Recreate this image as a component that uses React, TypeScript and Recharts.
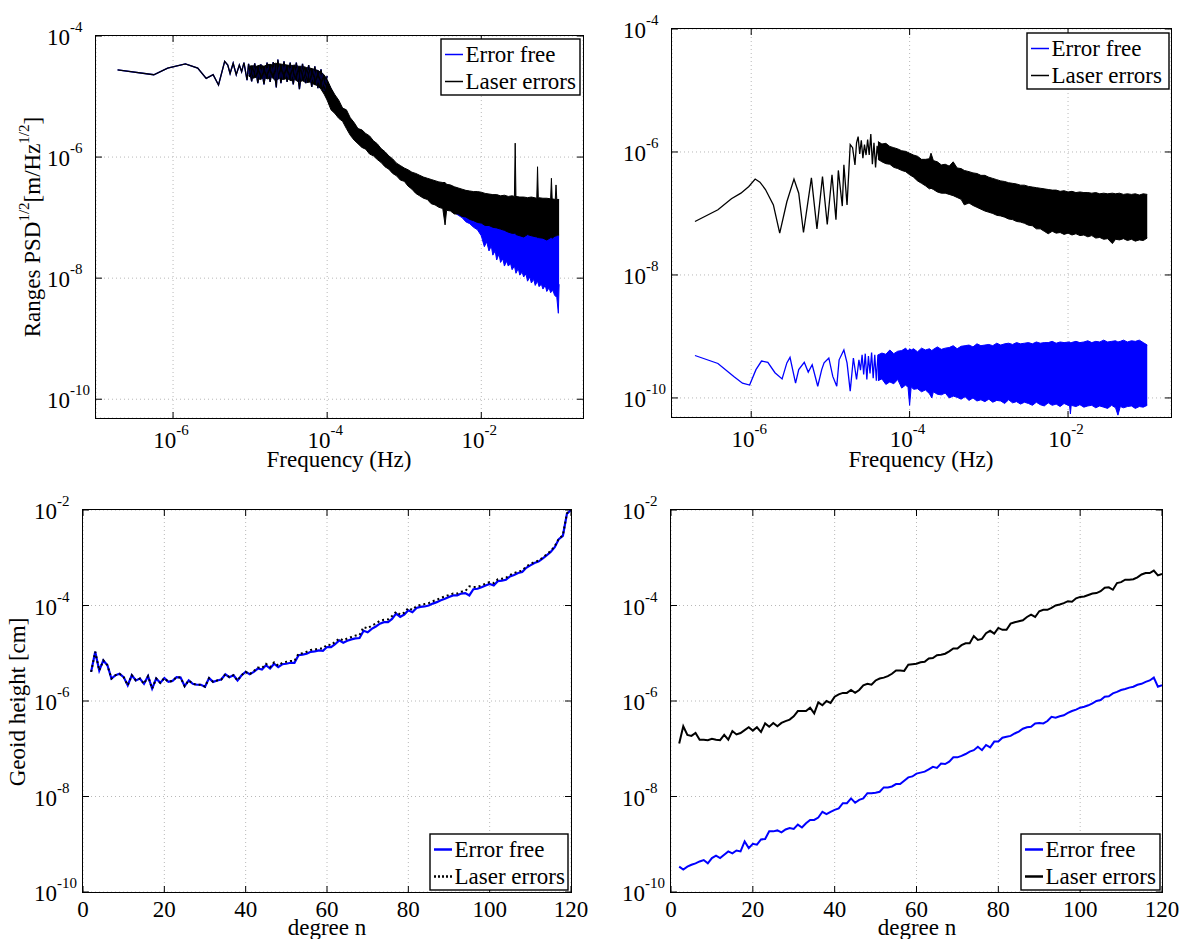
import React from "react";
import { ComposedChart, Line, Area, XAxis, YAxis, CartesianGrid } from "recharts";

const FONT = '"Liberation Serif", "Times New Roman", Times, serif';

// ---------- top panels: [log10 f (Hz), log10 PSD^1/2] ----------
// low-frequency part, Error free and Laser errors coincide
const tlLine = [
  [-6.72, -4.56], [-6.25, -4.64], [-6.07, -4.53], [-5.84, -4.46], [-5.68, -4.53], [-5.57, -4.7],
  [-5.48, -4.64], [-5.41, -4.81], [-5.33, -4.42], [-5.29, -4.48], [-5.26, -4.62], [-5.22, -4.45],
  [-5.18, -4.64], [-5.14, -4.48], [-5.11, -4.59], [-5.08, -4.44], [-5.04, -4.73], [-5.02, -4.46],
  [-4.98, -4.75], [-4.94, -4.45], [-4.9, -4.78], [-4.86, -4.47], [-4.82, -4.8], [-4.78, -4.44],
  [-4.74, -4.76], [-4.7, -4.43], [-4.66, -4.85], [-4.64, -4.39], [-4.6, -4.78], [-4.56, -4.42],
  [-4.52, -4.76], [-4.48, -4.44], [-4.44, -4.8], [-4.4, -4.44], [-4.36, -4.88], [-4.32, -4.46],
  [-4.28, -4.78], [-4.24, -4.48], [-4.2, -4.84], [-4.16, -4.5], [-4.12, -4.86], [-4.08, -4.55],
  [-4.04, -4.9], [-4.0, -4.66],
];
// dense part: [log10 f, low edge, high edge]
const tlLaserBand = [
  [-5.02, -4.66, -4.5], [-4.97, -4.7, -4.49], [-4.92, -4.68, -4.5], [-4.87, -4.72, -4.48],
  [-4.82, -4.69, -4.5], [-4.77, -4.71, -4.47], [-4.72, -4.68, -4.47], [-4.67, -4.74, -4.45],
  [-4.62, -4.7, -4.46], [-4.57, -4.72, -4.47], [-4.52, -4.7, -4.48], [-4.47, -4.74, -4.49],
  [-4.42, -4.72, -4.48], [-4.37, -4.76, -4.5], [-4.32, -4.74, -4.5], [-4.27, -4.77, -4.52],
  [-4.22, -4.76, -4.53], [-4.17, -4.8, -4.55], [-4.12, -4.82, -4.57], [-4.08, -4.88, -4.6],
  [-4.04, -4.96, -4.64],
  [-4.0, -5.06, -4.72], [-3.95, -5.22, -4.86], [-3.9, -5.28, -4.97], [-3.85, -5.36, -5.06],
  [-3.8, -5.41, -5.19], [-3.75, -5.53, -5.22], [-3.7, -5.64, -5.35], [-3.65, -5.72, -5.43],
  [-3.6, -5.78, -5.53], [-3.55, -5.84, -5.55], [-3.5, -5.87, -5.61], [-3.45, -5.95, -5.65],
  [-3.4, -5.98, -5.73], [-3.35, -6.04, -5.78], [-3.3, -6.09, -5.86], [-3.25, -6.16, -5.91],
  [-3.2, -6.2, -5.98], [-3.15, -6.27, -6.03], [-3.1, -6.31, -6.1], [-3.05, -6.38, -6.14],
  [-3.0, -6.4, -6.18], [-2.95, -6.48, -6.21], [-2.9, -6.53, -6.25], [-2.85, -6.6, -6.27],
  [-2.8, -6.64, -6.3], [-2.75, -6.68, -6.33], [-2.7, -6.7, -6.35], [-2.65, -6.77, -6.37],
  [-2.6, -6.79, -6.39], [-2.55, -6.83, -6.41], [-2.5, -6.85, -6.42], [-2.47, -7.12, -6.42],
  [-2.45, -6.88, -6.45], [-2.4, -6.89, -6.46], [-2.35, -6.94, -6.49], [-2.3, -6.94, -6.51],
  [-2.25, -6.98, -6.53], [-2.2, -6.99, -6.55], [-2.15, -7.03, -6.56], [-2.1, -7.05, -6.57],
  [-2.05, -7.08, -6.57], [-2.0, -7.09, -6.58], [-1.95, -7.13, -6.6], [-1.9, -7.13, -6.61],
  [-1.85, -7.16, -6.62], [-1.8, -7.17, -6.62], [-1.75, -7.19, -6.64], [-1.7, -7.21, -6.63],
  [-1.65, -7.24, -6.65], [-1.6, -7.26, -6.64], [-1.57, -7.26, -6.65], [-1.56, -7.26, -5.77],
  [-1.55, -7.28, -6.65], [-1.5, -7.3, -6.66], [-1.45, -7.32, -6.66], [-1.4, -7.28, -6.67],
  [-1.35, -7.3, -6.66], [-1.28, -7.32, -6.68], [-1.27, -7.33, -6.16], [-1.26, -7.33, -6.67],
  [-1.2, -7.34, -6.68], [-1.15, -7.37, -6.68], [-1.1, -7.33, -6.69], [-1.09, -7.33, -6.35],
  [-1.08, -7.34, -6.69], [-1.04, -7.3, -6.7], [-1.03, -7.31, -6.46], [-1.02, -7.29, -6.7],
  [-0.99, -7.29, -6.7],
];
const tlFreeBand = [
  [-5.02, -4.62, -4.51], [-4.5, -4.66, -4.5], [-4.12, -4.78, -4.57], [-4.04, -4.9, -4.66],
  [-4.0, -5.03, -4.74], [-3.9, -5.25, -5.0], [-3.8, -5.38, -5.21], [-3.7, -5.6, -5.37],
  [-3.6, -5.75, -5.55], [-3.5, -5.84, -5.64], [-3.4, -5.95, -5.76], [-3.3, -6.06, -5.89],
  [-3.2, -6.17, -6.01], [-3.1, -6.28, -6.13], [-3.0, -6.37, -6.21], [-2.9, -6.5, -6.28],
  [-2.8, -6.6, -6.33], [-2.7, -6.67, -6.38], [-2.6, -6.76, -6.42], [-2.5, -6.82, -6.45],
  [-2.4, -6.87, -6.48], [-2.3, -6.96, -6.53], [-2.25, -7.0, -6.57], [-2.2, -7.07, -6.6],
  [-2.15, -7.1, -6.63], [-2.1, -7.16, -6.66], [-2.05, -7.2, -6.7], [-2.0, -7.3, -6.72],
  [-1.96, -7.48, -6.75], [-1.93, -7.4, -6.78], [-1.9, -7.55, -6.8], [-1.87, -7.47, -6.83],
  [-1.85, -7.62, -6.85], [-1.82, -7.55, -6.87], [-1.8, -7.7, -6.88], [-1.77, -7.6, -6.9],
  [-1.75, -7.74, -6.92], [-1.72, -7.68, -6.94], [-1.7, -7.8, -6.95], [-1.67, -7.72, -6.98],
  [-1.65, -7.8, -7.0], [-1.62, -7.76, -7.01], [-1.6, -7.86, -7.02], [-1.57, -7.8, -7.04],
  [-1.55, -7.92, -7.05], [-1.52, -7.84, -7.07], [-1.5, -7.95, -7.08], [-1.47, -7.9, -7.09],
  [-1.45, -7.98, -7.1], [-1.42, -7.93, -7.11], [-1.4, -8.05, -7.12], [-1.37, -7.98, -7.14],
  [-1.35, -8.08, -7.15], [-1.32, -8.02, -7.16], [-1.3, -8.12, -7.17], [-1.27, -8.05, -7.19],
  [-1.25, -8.14, -7.2], [-1.22, -8.1, -7.21], [-1.2, -8.18, -7.22], [-1.17, -8.12, -7.24],
  [-1.15, -8.22, -7.25], [-1.12, -8.16, -7.26], [-1.1, -8.24, -7.27], [-1.07, -8.2, -7.28],
  [-1.05, -8.28, -7.3], [-1.02, -8.32, -7.3], [-1.0, -8.58, -7.3], [-0.99, -8.1, -7.3],
];

const trLaserLine = [
  [-6.71, -7.13], [-6.42, -6.94], [-6.25, -6.76], [-6.13, -6.67], [-6.03, -6.56], [-5.95, -6.44],
  [-5.89, -6.49], [-5.82, -6.61], [-5.72, -6.86], [-5.64, -7.32], [-5.55, -6.81], [-5.46, -6.44],
  [-5.4, -6.67], [-5.34, -7.31], [-5.24, -6.42], [-5.17, -7.25], [-5.1, -6.4], [-5.04, -7.18],
  [-4.98, -6.37], [-4.93, -7.1], [-4.9, -6.3], [-4.85, -6.88], [-4.83, -6.21], [-4.79, -6.86],
  [-4.75, -5.88], [-4.72, -5.93], [-4.69, -6.21], [-4.67, -5.85], [-4.65, -5.75], [-4.63, -6.03],
  [-4.61, -5.81], [-4.59, -6.1], [-4.57, -5.88], [-4.55, -6.05], [-4.53, -5.8], [-4.51, -6.05],
  [-4.49, -5.71], [-4.47, -6.2], [-4.45, -5.85], [-4.43, -6.25], [-4.41, -5.9], [-4.39, -6.1],
];
const trLaserBand = [
  [-4.4, -6.12, -5.83], [-4.35, -6.16, -5.87], [-4.3, -6.19, -5.86], [-4.25, -6.2, -5.91],
  [-4.2, -6.25, -5.93], [-4.15, -6.27, -5.95], [-4.1, -6.3, -5.98], [-4.05, -6.32, -5.99],
  [-4.0, -6.37, -6.02], [-3.95, -6.41, -6.05], [-3.9, -6.47, -6.07], [-3.85, -6.51, -6.12],
  [-3.8, -6.55, -6.12], [-3.75, -6.6, -6.11], [-3.73, -6.59, -6.02], [-3.7, -6.61, -6.14],
  [-3.65, -6.65, -6.16], [-3.6, -6.67, -6.21], [-3.55, -6.67, -6.2], [-3.5, -6.69, -6.23],
  [-3.45, -6.71, -6.16], [-3.4, -6.74, -6.26], [-3.35, -6.77, -6.27], [-3.31, -6.86, -6.3],
  [-3.25, -6.83, -6.32], [-3.2, -6.87, -6.34], [-3.15, -6.9, -6.35], [-3.1, -6.93, -6.38],
  [-3.05, -6.96, -6.38], [-3.0, -6.98, -6.41], [-2.95, -7.0, -6.43], [-2.9, -7.03, -6.45],
  [-2.85, -7.04, -6.47], [-2.8, -7.06, -6.48], [-2.75, -7.09, -6.5], [-2.7, -7.1, -6.51],
  [-2.65, -7.13, -6.52], [-2.6, -7.14, -6.54], [-2.55, -7.16, -6.54], [-2.5, -7.19, -6.56],
  [-2.45, -7.2, -6.57], [-2.4, -7.25, -6.58], [-2.35, -7.25, -6.59], [-2.3, -7.29, -6.6],
  [-2.25, -7.33, -6.61], [-2.2, -7.29, -6.62], [-2.15, -7.32, -6.62], [-2.1, -7.31, -6.64],
  [-2.05, -7.34, -6.63], [-2.0, -7.32, -6.65], [-1.95, -7.35, -6.64], [-1.9, -7.33, -6.66],
  [-1.85, -7.36, -6.65], [-1.8, -7.35, -6.66], [-1.75, -7.38, -6.66], [-1.7, -7.36, -6.67],
  [-1.65, -7.4, -6.66], [-1.6, -7.39, -6.68], [-1.55, -7.42, -6.67], [-1.5, -7.41, -6.68],
  [-1.44, -7.49, -6.67], [-1.4, -7.42, -6.68], [-1.35, -7.43, -6.67], [-1.3, -7.41, -6.69],
  [-1.25, -7.44, -6.68], [-1.2, -7.42, -6.69], [-1.15, -7.45, -6.68], [-1.1, -7.43, -6.7],
  [-1.05, -7.44, -6.68], [-1.0, -7.4, -6.69],
];
const trFreeLine = [
  [-6.71, -9.31], [-6.42, -9.44], [-6.22, -9.65], [-6.11, -9.76], [-6.02, -9.79], [-5.94, -9.54],
  [-5.87, -9.4], [-5.79, -9.42], [-5.7, -9.59], [-5.61, -9.69], [-5.55, -9.43], [-5.51, -9.34],
  [-5.44, -9.76], [-5.4, -9.54], [-5.33, -9.42], [-5.28, -9.58], [-5.23, -9.46], [-5.16, -9.81],
  [-5.11, -9.54], [-5.08, -9.43], [-5.02, -9.35], [-4.97, -9.65], [-4.92, -9.81], [-4.89, -9.38],
  [-4.83, -9.22], [-4.79, -9.43], [-4.75, -9.89], [-4.71, -9.35], [-4.67, -9.7], [-4.64, -9.38],
  [-4.62, -9.55], [-4.6, -9.3], [-4.58, -9.62], [-4.56, -9.28], [-4.54, -9.7], [-4.52, -9.32],
  [-4.5, -9.6], [-4.48, -9.26], [-4.46, -9.68], [-4.44, -9.3], [-4.42, -9.72], [-4.4, -9.3],
];
const trFreeBand = [
  [-4.4, -9.72, -9.3], [-4.35, -9.69, -9.27], [-4.3, -9.78, -9.29], [-4.25, -9.74, -9.22],
  [-4.2, -9.77, -9.28], [-4.15, -9.7, -9.24], [-4.1, -9.84, -9.23], [-4.05, -9.79, -9.19],
  [-4.02, -9.83, -9.24], [-4.0, -10.12, -9.2], [-3.98, -9.82, -9.22], [-3.95, -9.86, -9.2],
  [-3.9, -9.85, -9.25], [-3.85, -9.9, -9.19], [-3.8, -9.87, -9.22], [-3.75, -9.93, -9.2],
  [-3.72, -10.0, -9.23], [-3.7, -9.9, -9.21], [-3.65, -9.94, -9.17], [-3.6, -9.95, -9.21],
  [-3.55, -9.92, -9.19], [-3.5, -10.0, -9.18], [-3.45, -9.97, -9.15], [-3.4, -9.99, -9.2],
  [-3.35, -10.02, -9.16], [-3.3, -9.98, -9.15], [-3.25, -10.04, -9.14], [-3.2, -10.0, -9.17],
  [-3.15, -10.05, -9.12], [-3.1, -10.03, -9.15], [-3.05, -10.06, -9.14], [-3.0, -10.02, -9.13],
  [-2.95, -10.07, -9.15], [-2.9, -10.04, -9.11], [-2.85, -10.05, -9.14], [-2.8, -10.09, -9.12],
  [-2.75, -10.03, -9.11], [-2.7, -10.08, -9.13], [-2.65, -10.06, -9.1], [-2.6, -10.1, -9.12],
  [-2.55, -10.07, -9.11], [-2.5, -10.09, -9.1], [-2.45, -10.12, -9.12], [-2.4, -10.07, -9.09],
  [-2.35, -10.11, -9.11], [-2.3, -10.13, -9.1], [-2.25, -10.08, -9.1], [-2.2, -10.12, -9.08],
  [-2.15, -10.1, -9.11], [-2.1, -10.14, -9.09], [-2.05, -10.09, -9.1], [-1.98, -10.13, -9.09],
  [-1.97, -10.26, -9.1], [-1.96, -10.12, -9.1], [-1.9, -10.14, -9.08], [-1.85, -10.11, -9.1],
  [-1.8, -10.15, -9.09], [-1.75, -10.13, -9.07], [-1.7, -10.12, -9.1], [-1.65, -10.16, -9.08],
  [-1.6, -10.13, -9.09], [-1.55, -10.15, -9.06], [-1.5, -10.17, -9.09], [-1.45, -10.12, -9.08],
  [-1.4, -10.16, -9.07], [-1.37, -10.28, -9.09], [-1.34, -10.14, -9.08], [-1.3, -10.16, -9.06],
  [-1.25, -10.14, -9.09], [-1.2, -10.13, -9.07], [-1.15, -10.17, -9.08], [-1.1, -10.14, -9.06],
  [-1.05, -10.15, -9.1], [-1.0, -10.12, -9.14],
];

// ---------- bottom panels: log10 geoid height per degree n = 2..120 ----------
const degrees = Array.from({ length: 119 }, (_, i) => i + 2);
const blFree = [
  -5.39, -4.97, -5.36, -5.15, -5.25, -5.53, -5.46, -5.43, -5.5, -5.67,
  -5.46, -5.57, -5.53, -5.64, -5.48, -5.74, -5.53, -5.62, -5.52, -5.6,
  -5.58, -5.5, -5.51, -5.69, -5.57, -5.64, -5.66, -5.66, -5.7, -5.52,
  -5.6, -5.57, -5.55, -5.44, -5.5, -5.46, -5.57, -5.46, -5.39, -5.44,
  -5.39, -5.32, -5.34, -5.25, -5.32, -5.22, -5.29, -5.23, -5.22, -5.2,
  -5.2, -5.04, -5.03, -5.01, -4.97, -4.96, -4.94, -4.95, -4.87, -4.87,
  -4.81, -4.73, -4.78, -4.74, -4.71, -4.69, -4.68, -4.53, -4.56, -4.49,
  -4.44, -4.38, -4.35, -4.35, -4.28, -4.17, -4.24, -4.19, -4.1, -4.14,
  -4.05, -4.03, -4.02, -4.0, -3.96, -3.93, -3.89, -3.86, -3.82, -3.79,
  -3.79, -3.75, -3.74, -3.79, -3.66, -3.65, -3.62, -3.58, -3.55, -3.58,
  -3.49, -3.48, -3.46, -3.39, -3.36, -3.32, -3.3, -3.21, -3.16, -3.11,
  -3.08, -3.02, -2.95, -2.88, -2.78, -2.61, -2.54, -2.08, -2.0,
];
const blLaser = [
  -5.39, -4.97, -5.36, -5.15, -5.25, -5.53, -5.46, -5.43, -5.5, -5.67,
  -5.46, -5.57, -5.53, -5.64, -5.48, -5.74, -5.53, -5.62, -5.52, -5.6,
  -5.58, -5.5, -5.51, -5.69, -5.57, -5.64, -5.66, -5.66, -5.7, -5.52,
  -5.6, -5.57, -5.55, -5.44, -5.5, -5.46, -5.57, -5.46, -5.39, -5.44,
  -5.37, -5.3, -5.31, -5.22, -5.29, -5.19, -5.26, -5.2, -5.18, -5.16,
  -5.16, -5.01, -5.0, -4.97, -4.93, -4.92, -4.9, -4.9, -4.82, -4.83,
  -4.76, -4.69, -4.73, -4.69, -4.66, -4.63, -4.62, -4.45, -4.48, -4.42,
  -4.38, -4.32, -4.3, -4.29, -4.22, -4.13, -4.19, -4.15, -4.05, -4.09,
  -4.01, -3.99, -3.97, -3.95, -3.91, -3.88, -3.84, -3.81, -3.78, -3.75,
  -3.75, -3.71, -3.7, -3.6, -3.61, -3.61, -3.58, -3.54, -3.51, -3.53,
  -3.45, -3.44, -3.42, -3.36, -3.32, -3.29, -3.27, -3.18, -3.13, -3.09,
  -3.06, -3.0, -2.93, -2.86, -2.76, -2.6, -2.53, -2.07, -2.0,
];
const brLaser = [
  -6.89, -6.53, -6.71, -6.73, -6.67, -6.81, -6.81, -6.82, -6.79, -6.81,
  -6.82, -6.71, -6.81, -6.63, -6.7, -6.67, -6.61, -6.55, -6.62, -6.55,
  -6.65, -6.47, -6.54, -6.46, -6.53, -6.46, -6.42, -6.39, -6.32, -6.21,
  -6.21, -6.21, -6.14, -6.26, -6.03, -6.09, -6.0, -6.04, -5.91, -5.86,
  -5.83, -5.83, -5.77, -5.83, -5.77, -5.67, -5.64, -5.66, -5.57, -5.53,
  -5.51, -5.48, -5.43, -5.36, -5.36, -5.37, -5.24, -5.23, -5.22, -5.19,
  -5.18, -5.11, -5.1, -5.04, -5.03, -5.01, -4.96, -4.9, -4.9, -4.83,
  -4.79, -4.79, -4.64, -4.72, -4.7, -4.58, -4.53, -4.59, -4.47, -4.51,
  -4.51, -4.38, -4.35, -4.33, -4.31, -4.24, -4.19, -4.24, -4.12, -4.09,
  -4.09, -4.05, -4.0, -3.98, -3.95, -3.91, -3.92, -3.85, -3.82, -3.81,
  -3.78, -3.75, -3.74, -3.7, -3.63, -3.62, -3.67, -3.53, -3.51, -3.46,
  -3.46, -3.45, -3.41, -3.35, -3.32, -3.32, -3.27, -3.37, -3.34,
];
const brFree = [
  -9.47, -9.53, -9.47, -9.43, -9.4, -9.36, -9.33, -9.4, -9.29, -9.24,
  -9.29, -9.22, -9.15, -9.19, -9.13, -9.15, -8.94, -9.08, -8.99, -9.01,
  -8.9, -8.89, -8.73, -8.73, -8.71, -8.75, -8.69, -8.66, -8.68, -8.59,
  -8.65, -8.56, -8.49, -8.49, -8.44, -8.32, -8.37, -8.32, -8.28, -8.25,
  -8.14, -8.14, -8.04, -8.13, -8.07, -8.04, -7.93, -7.93, -7.92, -7.9,
  -7.81, -7.81, -7.79, -7.74, -7.74, -7.67, -7.6, -7.58, -7.52, -7.5,
  -7.48, -7.43, -7.38, -7.4, -7.31, -7.32, -7.27, -7.18, -7.18, -7.15,
  -7.11, -7.06, -7.03, -6.96, -7.03, -6.92, -6.97, -6.85, -6.85, -6.77,
  -6.75, -6.73, -6.68, -6.64, -6.58, -6.55, -6.54, -6.47, -6.46, -6.47,
  -6.42, -6.33, -6.35, -6.32, -6.3, -6.25, -6.21, -6.18, -6.14, -6.12,
  -6.09, -6.05, -6.0, -5.98, -5.91, -5.9, -5.84, -5.81, -5.77, -5.75,
  -5.72, -5.7, -5.66, -5.64, -5.6, -5.57, -5.51, -5.7, -5.67,
];

const freqTicks = [1e-6, 1e-4, 1e-2];
const psdTicks = [1e-10, 1e-8, 1e-6, 1e-4];
const degreeTicks = [0, 20, 40, 60, 80, 100, 120];
const geoidTicks = [1e-10, 1e-8, 1e-6, 1e-4, 1e-2];

const BLUE = "#0000ff";

// table builders
const pts = (rows: number[][]) => rows.map(([f, v]) => ({ x: 10 ** f, v: 10 ** v }));
const band = (rows: number[][]) => rows.map(([f, lo, hi]) => ({ x: 10 ** f, band: [10 ** lo, 10 ** hi] }));
const perDegree = (vals: number[]) => vals.map((v, i) => ({ x: degrees[i], v: 10 ** v }));

const ML = 70;
const MT = 30;
const MR = 30;
const MB = 48;

function Panel({ left, top, w, h, xLog, xDomain, xTicks, yDomain, yTicks, children }: any) {
  const yb = MT + h;
  const xTick = (p: any) => {
    const x = p.x;
    const val = p.payload.value;
    return (
      <g>
        <line x1={x} x2={x} y1={yb} y2={yb - 6} stroke="#000" />
        <line x1={x} x2={x} y1={MT} y2={MT + 6} stroke="#000" />
        {xLog ? (
          <text x={x - 2} y={yb + 30} textAnchor="middle" fontFamily={FONT} fontSize={23} fill="#000">
            10<tspan fontSize={15} dy={-13}>{Math.round(Math.log10(val))}</tspan>
          </text>
        ) : (
          <text x={x} y={yb + 25} textAnchor="middle" fontFamily={FONT} fontSize={23} fill="#000">
            {val}
          </text>
        )}
      </g>
    );
  };
  const yTick = (p: any) => {
    const y = p.y;
    return (
      <g>
        <line x1={ML} x2={ML + 6} y1={y} y2={y} stroke="#000" />
        <line x1={ML + w} x2={ML + w - 6} y1={y} y2={y} stroke="#000" />
        <text x={ML - 49} y={y + 9} fontFamily={FONT} fontSize={23} fill="#000">
          10<tspan fontSize={15} dy={-13}>{Math.round(Math.log10(p.payload.value))}</tspan>
        </text>
      </g>
    );
  };
  return (
    <div style={{ position: "absolute", left: left - ML, top: top - MT }}>
      <ComposedChart width={w + ML + MR} height={h + MT + MB} margin={{ top: MT, right: MR, bottom: 0, left: 0 }}>
        <CartesianGrid stroke="#b8b8b8" strokeDasharray="1 3" />
        <XAxis
          type="number"
          dataKey="x"
          scale={xLog ? "log" : "linear"}
          domain={xDomain}
          ticks={xTicks}
          interval={0}
          allowDataOverflow
          axisLine={false}
          tickLine={false}
          tickSize={0}
          height={MB}
          tick={xTick}
        />
        <YAxis
          type="number"
          scale="log"
          domain={yDomain}
          ticks={yTicks}
          interval={0}
          allowDataOverflow
          axisLine={false}
          tickLine={false}
          tickSize={0}
          width={ML}
          tick={yTick}
        />
        {children}
      </ComposedChart>
      <div
        style={{
          position: "absolute",
          left: ML - 0.75,
          top: MT - 0.75,
          width: w + 1.5,
          height: h + 1.5,
          border: "1.5px solid #000",
          boxSizing: "border-box",
          pointerEvents: "none",
        }}
      />
    </div>
  );
}

function LegendBox({ x, y, w, items }: any) {
  return (
    <g>
      <rect x={x} y={y} width={w} height={56} fill="#fff" stroke="#000" strokeWidth={1.4} />
      {items.map((it: any, i: number) => (
        <g key={it.label}>
          <line
            x1={x + 4}
            x2={x + 22}
            y1={y + 15.5 + 27 * i}
            y2={y + 15.5 + 27 * i}
            stroke={it.color}
            strokeWidth={it.width}
            strokeDasharray={it.dash}
          />
          <text x={x + 24.5} y={y + 23 + 27 * i} fontFamily={FONT} fontSize={23} fill="#000">
            {it.label}
          </text>
        </g>
      ))}
    </g>
  );
}

export default function App() {
  const psdDomainY = [10 ** -10.31, 1e-4];
  const topLegend = [
    { label: "Error free", color: BLUE, width: 1.5 },
    { label: "Laser errors", color: "#000", width: 1.5 },
  ];
  return (
    <div style={{ position: "absolute", left: 0, top: 0, width: 1184, height: 939, background: "#fff" }}>
      <Panel left={96} top={36} w={487} h={382} xLog xDomain={[1e-7, 10 ** -0.68]} xTicks={freqTicks} yDomain={psdDomainY} yTicks={psdTicks}>
        <Line data={pts(tlLine)} dataKey="v" stroke={BLUE} strokeWidth={1.3} dot={false} activeDot={false} isAnimationActive={false} />
        <Area data={band(tlFreeBand)} dataKey="band" stroke={BLUE} strokeWidth={1} fill={BLUE} fillOpacity={1} dot={false} activeDot={false} isAnimationActive={false} />
        <Line data={pts(tlLine)} dataKey="v" stroke="#000" strokeWidth={1.3} dot={false} activeDot={false} isAnimationActive={false} />
        <Area data={band(tlLaserBand)} dataKey="band" stroke="#000" strokeWidth={1} fill="#000" fillOpacity={1} dot={false} activeDot={false} isAnimationActive={false} />
      </Panel>
      <Panel left={672} top={29} w={499} h={388} xLog xDomain={[1e-7, 10 ** -0.7]} xTicks={freqTicks} yDomain={psdDomainY} yTicks={psdTicks}>
        <Line data={pts(trFreeLine)} dataKey="v" stroke={BLUE} strokeWidth={1.3} dot={false} activeDot={false} isAnimationActive={false} />
        <Area data={band(trFreeBand)} dataKey="band" stroke={BLUE} strokeWidth={1} fill={BLUE} fillOpacity={1} dot={false} activeDot={false} isAnimationActive={false} />
        <Line data={pts(trLaserLine)} dataKey="v" stroke="#000" strokeWidth={1.3} dot={false} activeDot={false} isAnimationActive={false} />
        <Area data={band(trLaserBand)} dataKey="band" stroke="#000" strokeWidth={1} fill="#000" fillOpacity={1} dot={false} activeDot={false} isAnimationActive={false} />
      </Panel>
      <Panel left={83} top={510} w={488} h={382} xDomain={[0, 120]} xTicks={degreeTicks} yDomain={[1e-10, 1e-2]} yTicks={geoidTicks}>
        <Line data={perDegree(blFree)} dataKey="v" stroke={BLUE} strokeWidth={2.2} dot={false} activeDot={false} isAnimationActive={false} />
        <Line data={perDegree(blLaser)} dataKey="v" stroke="#000" strokeWidth={2} strokeDasharray="2 3" dot={false} activeDot={false} isAnimationActive={false} />
      </Panel>
      <Panel left={671} top={510} w={491} h={382} xDomain={[0, 120]} xTicks={degreeTicks} yDomain={[1e-10, 1e-2]} yTicks={geoidTicks}>
        <Line data={perDegree(brFree)} dataKey="v" stroke={BLUE} strokeWidth={2} dot={false} activeDot={false} isAnimationActive={false} />
        <Line data={perDegree(brLaser)} dataKey="v" stroke="#000" strokeWidth={2} dot={false} activeDot={false} isAnimationActive={false} />
      </Panel>

      <svg width={1184} height={939} style={{ position: "absolute", left: 0, top: 0, pointerEvents: "none" }}>
        <g fontFamily={FONT} fill="#000">
          <text transform="translate(40,227) rotate(-90)" textAnchor="middle" fontSize={23}>
            Ranges PSD<tspan fontSize={15} dy={-11}>1/2</tspan>
            <tspan dy={11}>[m/Hz</tspan>
            <tspan fontSize={15} dy={-11}>1/2</tspan>
            <tspan dy={11}>]</tspan>
          </text>
          <text transform="translate(25,702) rotate(-90)" textAnchor="middle" fontSize={23}>
            Geoid height [cm]
          </text>
          <text x={339} y={467} textAnchor="middle" fontSize={23}>Frequency (Hz)</text>
          <text x={921} y={467} textAnchor="middle" fontSize={23}>Frequency (Hz)</text>
          <text x={327} y={935} textAnchor="middle" fontSize={23}>degree n</text>
          <text x={917} y={935} textAnchor="middle" fontSize={23}>degree n</text>
        </g>
        <LegendBox x={441} y={39} w={139} items={topLegend} />
        <LegendBox x={1027} y={33} w={142} items={topLegend} />
        <LegendBox
          x={430}
          y={834}
          w={138}
          items={[
            { label: "Error free", color: BLUE, width: 2.5 },
            { label: "Laser errors", color: "#000", width: 2.5, dash: "2 2" },
          ]}
        />
        <LegendBox
          x={1021}
          y={834}
          w={139}
          items={[
            { label: "Error free", color: BLUE, width: 2.5 },
            { label: "Laser errors", color: "#000", width: 2.5 },
          ]}
        />
      </svg>
    </div>
  );
}
